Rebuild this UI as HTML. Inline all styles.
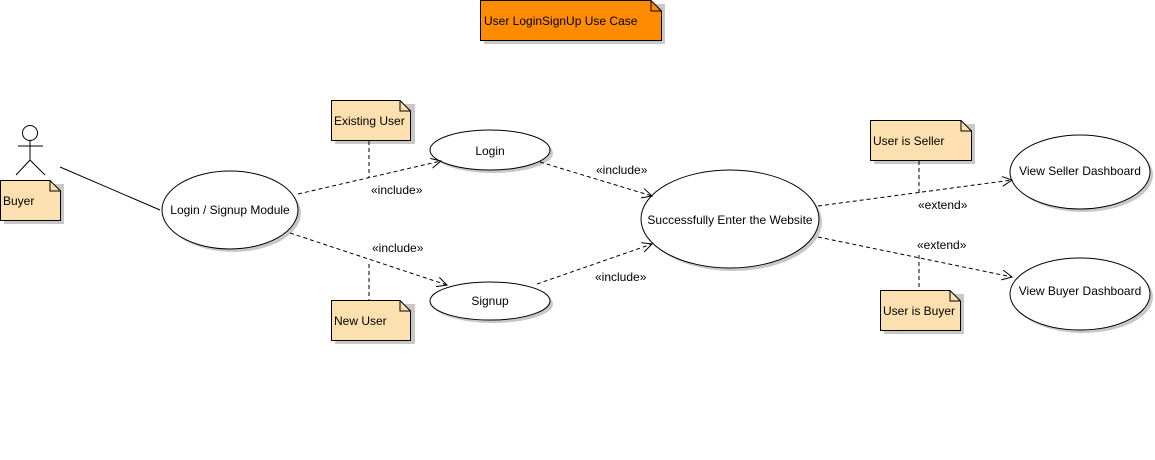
<!DOCTYPE html>
<html><head><meta charset="utf-8"><style>
html,body{margin:0;padding:0;background:#fff;width:1155px;height:460px;overflow:hidden}
svg text{font-family:"Liberation Sans",Arial,sans-serif;font-size:12px;fill:#000}
</style></head><body>
<svg width="1155" height="460" viewBox="0 0 1155 460" xmlns="http://www.w3.org/2000/svg">
<defs>
<marker id="a" markerWidth="12" markerHeight="12" refX="10" refY="5" orient="auto" markerUnits="userSpaceOnUse">
<path d="M0,0 L10,5 L0,10" fill="none" stroke="#000" stroke-width="1"/></marker>
</defs>
<g fill="#c8c8c8">
<rect x="484" y="4" width="181" height="40"/>
<rect x="4" y="184" width="60" height="40"/>
<rect x="335" y="104" width="80" height="40"/>
<rect x="335" y="304" width="80" height="40"/>
<rect x="874" y="124" width="101" height="40"/>
<rect x="884" y="294" width="80" height="40"/>
<ellipse cx="233" cy="213" rx="68" ry="39"/>
<ellipse cx="493" cy="153" rx="60" ry="20"/>
<ellipse cx="493" cy="304" rx="60" ry="19"/>
<ellipse cx="733" cy="222" rx="89" ry="49"/>
<ellipse cx="1083" cy="175" rx="70" ry="37"/>
<ellipse cx="1083" cy="297" rx="70" ry="36"/>
</g>
<g stroke="#000" stroke-width="1">
<path d="M480.5,0.5 H651 L661.5,11 V40.5 H480.5Z" fill="#ff8c00"/>
<path d="M651,0.5 V11 H661.5" fill="none"/>
<path d="M0.5,180.5 H50 L60.5,191 V220.5 H0.5Z" fill="#fde0b0"/><path d="M50,180.5 V191 H60.5" fill="none"/>
<path d="M331.5,100.5 H400 L410.5,111 V140.5 H331.5Z" fill="#fde0b0"/><path d="M400,100.5 V111 H410.5" fill="none"/>
<path d="M331.5,300.5 H400 L410.5,311 V340.5 H331.5Z" fill="#fde0b0"/><path d="M400,300.5 V311 H410.5" fill="none"/>
<path d="M870.5,120.5 H961 L971.5,131 V160.5 H870.5Z" fill="#fde0b0"/><path d="M961,120.5 V131 H971.5" fill="none"/>
<path d="M880.5,290.5 H950 L960.5,301 V330.5 H880.5Z" fill="#fde0b0"/><path d="M950,290.5 V301 H960.5" fill="none"/>
<ellipse cx="230" cy="210" rx="68" ry="39" fill="#fff"/>
<ellipse cx="490" cy="150" rx="60" ry="20" fill="#fff"/>
<ellipse cx="490" cy="301" rx="60" ry="19" fill="#fff"/>
<ellipse cx="730" cy="219" rx="89" ry="49" fill="#fff"/>
<ellipse cx="1080" cy="172" rx="70" ry="37" fill="#fff"/>
<ellipse cx="1080" cy="294" rx="70" ry="36" fill="#fff"/>
<circle cx="30" cy="133" r="7.5" fill="#fff"/>
<path d="M30,141 V160 M18,146 H43 M30,160 L16,175 M30,160 L45,175" fill="none"/>
<line x1="60" y1="167" x2="160" y2="210"/>
<g stroke-dasharray="4,3" fill="none">
<line x1="369" y1="141" x2="369" y2="177"/>
<line x1="369" y1="264" x2="369" y2="300"/>
<line x1="919" y1="161" x2="919" y2="196"/>
<line x1="919" y1="255" x2="919" y2="290"/>
<line x1="298" y1="194" x2="441" y2="161" marker-end="url(#a)"/>
<line x1="290" y1="233" x2="447" y2="285" marker-end="url(#a)"/>
<line x1="540" y1="162" x2="652" y2="196" marker-end="url(#a)"/>
<line x1="537" y1="284" x2="652" y2="244" marker-end="url(#a)"/>
<line x1="818" y1="206" x2="1012" y2="180" marker-end="url(#a)"/>
<line x1="818" y1="237" x2="1012" y2="277" marker-end="url(#a)"/>
</g>
</g>
<text x="484" y="25">User LoginSignUp Use Case</text>
<text x="3" y="205">Buyer</text>
<text x="334" y="125">Existing User</text>
<text x="334" y="325">New User</text>
<text x="873" y="145">User is Seller</text>
<text x="883" y="315">User is Buyer</text>
<text x="230" y="214" text-anchor="middle">Login / Signup Module</text>
<text x="490" y="155" text-anchor="middle">Login</text>
<text x="490" y="305" text-anchor="middle">Signup</text>
<text x="730" y="224" text-anchor="middle">Successfully Enter the Website</text>
<text x="1080" y="175" text-anchor="middle">View Seller Dashboard</text>
<text x="1080" y="295" text-anchor="middle">View Buyer Dashboard</text>
<g style="font-size:11px">
<text x="371" y="194">«include»</text>
<text x="372" y="252">«include»</text>
<text x="596" y="174">«include»</text>
<text x="595" y="281">«include»</text>
<text x="918" y="209">«extend»</text>
<text x="917" y="249">«extend»</text>
</g>
</svg>
</body></html>
